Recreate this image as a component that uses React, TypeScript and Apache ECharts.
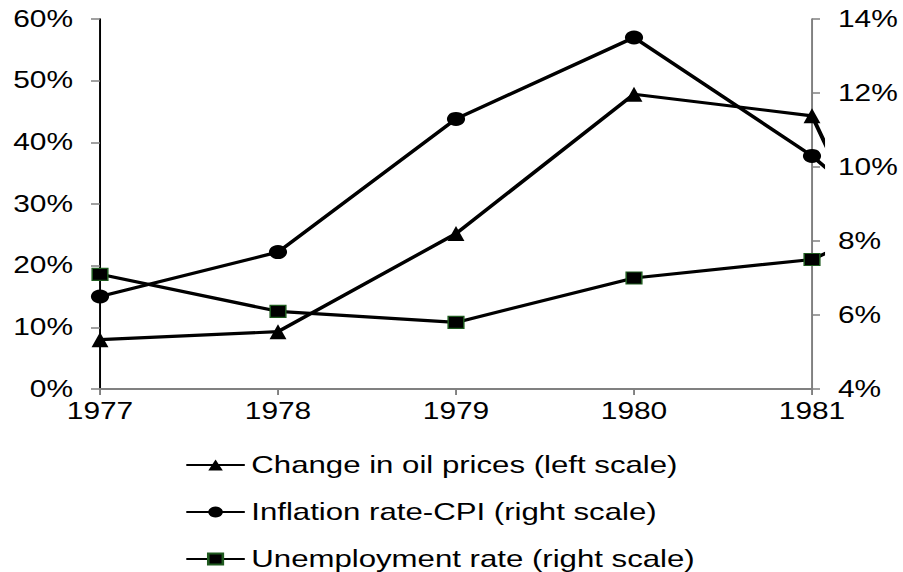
import React, { useEffect, useRef } from "react";
import * as echarts from "echarts";

const years = [1977, 1978, 1979, 1980, 1981, 1982];
const oilPriceChange = [8.0, 9.3, 25.2, 47.8, 44.3, -17.0];
const inflationCPI = [6.5, 7.7, 11.3, 13.5, 10.3, 6.2];
const unemployment = [7.1, 6.1, 5.8, 7.0, 7.5, 9.7];
const seriesNames = [
  "Change in oil prices (left scale)",
  "Inflation rate-CPI (right scale)",
  "Unemployment rate (right scale)",
];

const FONT = "'Liberation Sans', Arial, sans-serif";
const PAGE_W = 903;
const PAGE_H = 572;
const INNER_W = 695;
const SX = PAGE_W / INNER_W;

export default function App() {
  const ref = useRef<HTMLDivElement>(null);
  useEffect(() => {
    if (!ref.current) return;
    const chart = echarts.init(ref.current, undefined, { renderer: "svg" });
    const px = (x: number) => x / SX;
    const gl = px(100), gt = 19, gw = px(712), gh = 370;
    const extra = px(10);
    const xMax2 = 1977 + (4 * (gw + extra)) / gw;
    const pair = (vals: number[]) => years.map((y, i) => [y, vals[i]]);
    const lineStyle = { color: "#000", width: 3.2 };
    chart.setOption({
      animation: false,
      textStyle: { fontFamily: FONT },
      grid: [
        { left: gl, top: gt, width: gw, height: gh },
        { left: gl, top: gt, width: gw + extra, height: gh },
      ],
      xAxis: [
        {
          gridIndex: 0,
          type: "value",
          min: 1977,
          max: 1981,
          interval: 1,
          axisLine: { lineStyle: { color: "#808080", width: 2 } },
          axisTick: { inside: false, length: 6, lineStyle: { color: "#808080", width: 1.5 } },
          axisLabel: {
            margin: 11,
            color: "#000",
            fontSize: 23,
            fontFamily: FONT,
            formatter: (v: number) => String(v),
          },
          splitLine: { show: false },
        },
        { gridIndex: 1, type: "value", min: 1977, max: xMax2, show: false },
      ],
      yAxis: [
        {
          gridIndex: 0,
          type: "value",
          position: "left",
          min: 0,
          max: 60,
          interval: 10,
          axisLine: { show: true, lineStyle: { color: "#000", width: 1.5 } },
          axisTick: { show: true, length: px(9), lineStyle: { color: "#808080", width: 1.5 } },
          axisLabel: { margin: px(27), color: "#000", fontSize: 23, fontFamily: FONT, formatter: "{value}%" },
          splitLine: { show: false },
        },
        {
          gridIndex: 0,
          type: "value",
          position: "right",
          min: 4,
          max: 14,
          interval: 2,
          axisLine: { show: true, lineStyle: { color: "#808080", width: 1.5 } },
          axisTick: { show: true, length: px(8), lineStyle: { color: "#808080", width: 1.5 } },
          axisLabel: { margin: px(26), color: "#000", fontSize: 23, fontFamily: FONT, formatter: "{value}%" },
          splitLine: { show: false },
        },
        { gridIndex: 1, type: "value", min: 0, max: 60, show: false },
        { gridIndex: 1, type: "value", min: 4, max: 14, show: false },
      ],
      legend: {
        orient: "vertical",
        left: px(185),
        top: 453,
        height: 160,
        padding: 0,
        itemWidth: px(250) - px(185) - 5,
        itemHeight: 14,
        itemGap: 23,
        textStyle: { color: "#000", fontSize: 24, fontFamily: FONT, lineHeight: 24 },
        data: seriesNames,
      },
      series: [
        {
          name: seriesNames[0],
          type: "line",
          xAxisIndex: 1,
          yAxisIndex: 2,
          data: pair(oilPriceChange),
          clip: true,
          symbol: "triangle",
          symbolSize: [13, 15],
          itemStyle: { color: "#000" },
          lineStyle,
        },
        {
          name: seriesNames[1],
          type: "line",
          xAxisIndex: 1,
          yAxisIndex: 3,
          data: pair(inflationCPI),
          clip: true,
          symbol: "circle",
          symbolSize: [14, 14],
          itemStyle: { color: "#000" },
          lineStyle,
        },
        {
          name: seriesNames[2],
          type: "line",
          xAxisIndex: 1,
          yAxisIndex: 3,
          data: pair(unemployment),
          clip: true,
          symbol: "rect",
          symbolSize: [12, 12],
          itemStyle: { color: "#000", borderColor: "#1f5a1f", borderWidth: 1.2 },
          lineStyle,
        },
      ],
    });
    return () => chart.dispose();
  }, []);
  return (
    <div
      ref={ref}
      style={{
        position: "absolute",
        left: 0,
        top: 0,
        width: INNER_W,
        height: PAGE_H,
        transform: `scaleX(${SX})`,
        transformOrigin: "0 0",
      }}
    />
  );
}
